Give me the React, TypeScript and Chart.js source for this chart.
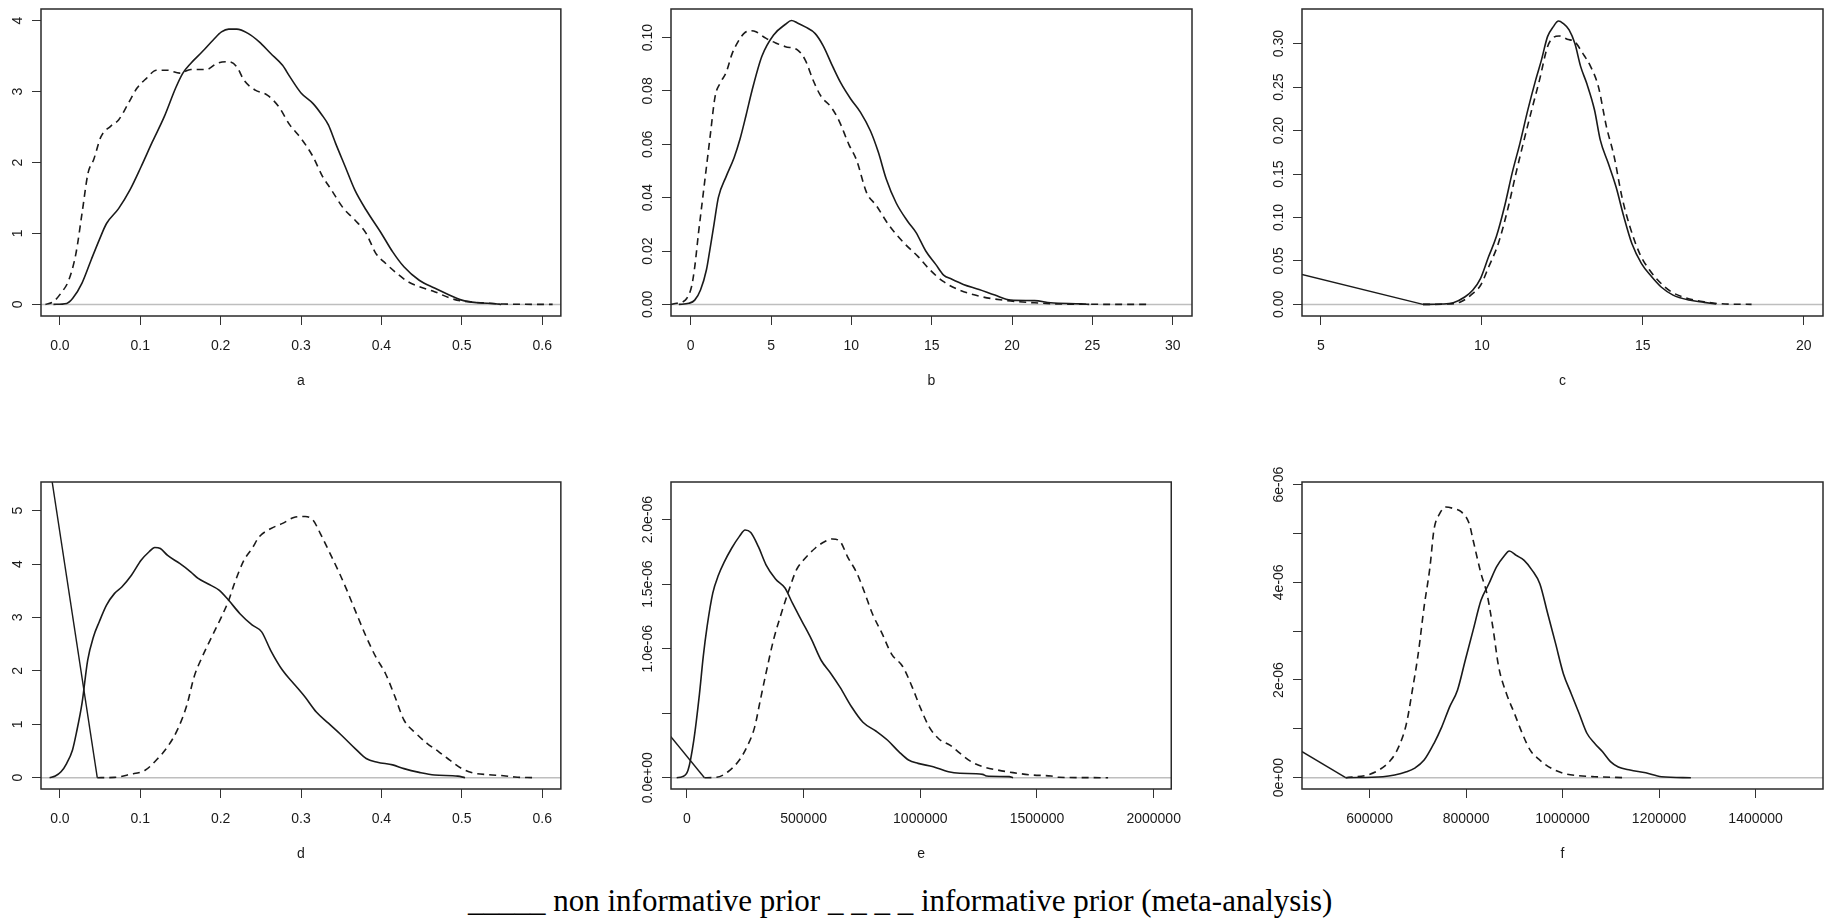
import React, { useEffect, useRef } from "react";
import { Chart, registerables } from "chart.js";
Chart.register(...registerables);

type Pt = [number, number];

// ---------------- tick values & labels ----------------
const xTicksA = [0, 0.1, 0.2, 0.3, 0.4, 0.5, 0.6];
const xLabelsA = ["0.0", "0.1", "0.2", "0.3", "0.4", "0.5", "0.6"];
const yTicksA = [0, 1, 2, 3, 4];
const yLabelsA = ["0", "1", "2", "3", "4"];

const xTicksB = [0, 5, 10, 15, 20, 25, 30];
const xLabelsB = ["0", "5", "10", "15", "20", "25", "30"];
const yTicksB = [0, 0.02, 0.04, 0.06, 0.08, 0.1];
const yLabelsB = ["0.00", "0.02", "0.04", "0.06", "0.08", "0.10"];

const xTicksC = [5, 10, 15, 20];
const xLabelsC = ["5", "10", "15", "20"];
const yTicksC = [0, 0.05, 0.1, 0.15, 0.2, 0.25, 0.3];
const yLabelsC = ["0.00", "0.05", "0.10", "0.15", "0.20", "0.25", "0.30"];

const xTicksD = [0, 0.1, 0.2, 0.3, 0.4, 0.5, 0.6];
const xLabelsD = ["0.0", "0.1", "0.2", "0.3", "0.4", "0.5", "0.6"];
const yTicksD = [0, 1, 2, 3, 4, 5];
const yLabelsD = ["0", "1", "2", "3", "4", "5"];

const xTicksE = [0, 500000, 1000000, 1500000, 2000000];
const xLabelsE = ["0", "500000", "1000000", "1500000", "2000000"];
const yTicksE = [0, 5e-7, 1e-6, 1.5e-6, 2e-6];
const yLabelsE = ["0.0e+00", "", "1.0e-06", "1.5e-06", "2.0e-06"];

const xTicksF = [600000, 800000, 1000000, 1200000, 1400000];
const xLabelsF = ["600000", "800000", "1000000", "1200000", "1400000"];
const yTicksF = [0, 1e-6, 2e-6, 3e-6, 4e-6, 5e-6, 6e-6];
const yLabelsF = ["0e+00", "", "2e-06", "", "4e-06", "", "6e-06"];

// ---------------- axis ranges ----------------
const xLimA = [-0.0235, 0.6232];
const yLimA = [-0.1635, 4.1635];
const xLimB = [-1.226, 31.2];
const yLimB = [-0.00435, 0.11072];
const xLimC = [4.41, 20.6];
const yLimC = [-0.01334, 0.3398];
const xLimD = [-0.0235, 0.6232];
const yLimD = [-0.2115, 5.535];
const xLimE = [-68300, 2075300];
const yLimE = [-0.0876e-6, 2.2914e-6];
const xLimF = [459900, 1539700];
const yLimF = [-0.2313e-6, 6.053e-6];

// ---------------- series (x, density) ----------------
const aSolid: Pt[] = [
  [-0.008, 0], [0.0085, 0.014], [0.016, 0.085], [0.0275, 0.3], [0.039, 0.63], [0.049, 0.91],
  [0.058, 1.14], [0.073, 1.35], [0.087, 1.61], [0.101, 1.94], [0.115, 2.29], [0.13, 2.65],
  [0.144, 3.05], [0.153, 3.26], [0.163, 3.4], [0.177, 3.56], [0.191, 3.73], [0.201, 3.84],
  [0.21, 3.88], [0.22, 3.88], [0.234, 3.82], [0.248, 3.7], [0.262, 3.54], [0.277, 3.37],
  [0.286, 3.21], [0.3, 2.98], [0.315, 2.83], [0.326, 2.67], [0.334, 2.53], [0.343, 2.27],
  [0.355, 1.94], [0.367, 1.61], [0.381, 1.33], [0.4, 1.0], [0.414, 0.74], [0.428, 0.53],
  [0.447, 0.34], [0.466, 0.23], [0.485, 0.13], [0.5, 0.06], [0.519, 0.024], [0.542, 0.01], [0.549, 0],
];
const aDashed: Pt[] = [
  [-0.018, 0], [-0.008, 0.04], [0.0014, 0.16], [0.011, 0.34], [0.02, 0.72], [0.0275, 1.28],
  [0.035, 1.85], [0.042, 2.04], [0.051, 2.36], [0.063, 2.51], [0.073, 2.6], [0.084, 2.81],
  [0.096, 3.05], [0.108, 3.19], [0.12, 3.3], [0.134, 3.3], [0.149, 3.26], [0.163, 3.31],
  [0.182, 3.31], [0.196, 3.4], [0.21, 3.42], [0.22, 3.35], [0.229, 3.16], [0.243, 3.02],
  [0.258, 2.95], [0.272, 2.79], [0.286, 2.53], [0.3, 2.34], [0.315, 2.08], [0.326, 1.82],
  [0.338, 1.61], [0.353, 1.35], [0.367, 1.19], [0.381, 1.0], [0.393, 0.72], [0.405, 0.58],
  [0.419, 0.44], [0.433, 0.32], [0.447, 0.25], [0.466, 0.18], [0.485, 0.09], [0.5, 0.047],
  [0.523, 0.024], [0.552, 0.005], [0.613, 0],
];

const bSolid: Pt[] = [
  [-0.74, 0], [-0.12, 0.0004], [0.25, 0.0016], [0.61, 0.0054], [0.98, 0.013], [1.18, 0.02],
  [1.45, 0.03], [1.72, 0.04], [2.21, 0.048], [2.7, 0.055], [3.07, 0.062], [3.45, 0.071],
  [3.81, 0.08], [4.43, 0.093], [5.16, 0.101], [5.9, 0.105], [6.27, 0.1064], [6.64, 0.1055],
  [7.13, 0.104], [7.75, 0.1015], [8.24, 0.097], [8.85, 0.089], [9.34, 0.083], [9.96, 0.077],
  [10.57, 0.072], [11.19, 0.065], [11.68, 0.057], [12.17, 0.047], [12.79, 0.038], [13.52, 0.031],
  [14.02, 0.027], [14.63, 0.02], [15.25, 0.015], [15.74, 0.011], [16.23, 0.0095], [16.97, 0.0075],
  [17.95, 0.0056], [18.93, 0.0035], [19.92, 0.0016], [21.4, 0.0014], [22.4, 0.0006], [24.3, 0.0002], [24.8, 0],
];
const bDashed: Pt[] = [
  [-1.23, 0], [-0.86, 0.0004], [-0.49, 0.001], [-0.25, 0.0022], [0.05, 0.0066], [0.25, 0.014],
  [0.49, 0.027], [0.69, 0.037], [0.93, 0.049], [1.23, 0.064], [1.52, 0.078], [1.84, 0.083],
  [2.21, 0.087], [2.58, 0.094], [2.95, 0.0985], [3.32, 0.1016], [3.69, 0.1026], [4.06, 0.1022],
  [4.67, 0.0998], [5.29, 0.098], [5.9, 0.0966], [6.64, 0.0954], [7.13, 0.0916], [7.62, 0.084],
  [8.11, 0.078], [8.73, 0.074], [9.22, 0.069], [9.84, 0.06], [10.33, 0.054], [10.94, 0.042],
  [11.56, 0.037], [12.3, 0.03], [13.28, 0.023], [14.14, 0.018], [14.88, 0.013], [15.74, 0.0085],
  [16.72, 0.0054], [17.95, 0.0031], [19.43, 0.0016], [21.4, 0.0006], [23.4, 0.0001], [28.5, 0],
];

const cSolid: Pt[] = [
  [8.17, 0], [8.74, 0.0004], [9.11, 0.0019], [9.48, 0.0088], [9.72, 0.0165], [9.96, 0.03],
  [10.21, 0.055], [10.45, 0.078], [10.7, 0.112], [10.94, 0.151], [11.18, 0.185], [11.43, 0.224],
  [11.67, 0.258], [11.85, 0.281], [12.04, 0.308], [12.22, 0.3195], [12.38, 0.326], [12.52, 0.3234],
  [12.71, 0.3157], [12.89, 0.3], [13.07, 0.2735], [13.26, 0.254], [13.5, 0.2236], [13.68, 0.189],
  [13.93, 0.162], [14.17, 0.135], [14.41, 0.101], [14.66, 0.07], [14.96, 0.047], [15.27, 0.032],
  [15.57, 0.02], [15.94, 0.0107], [16.43, 0.005], [16.91, 0.0023], [17.28, 0.0004],
];
const cDashed: Pt[] = [
  [8.17, 0], [8.87, 0.0004], [9.35, 0.003], [9.72, 0.0127], [9.96, 0.022], [10.21, 0.043],
  [10.51, 0.07], [10.82, 0.112], [11.06, 0.151], [11.31, 0.189], [11.55, 0.224], [11.79, 0.258],
  [12.04, 0.2965], [12.22, 0.307], [12.4, 0.3088], [12.65, 0.305], [12.89, 0.302], [13.13, 0.289],
  [13.38, 0.2735], [13.62, 0.2505], [13.87, 0.2045], [14.11, 0.17], [14.35, 0.124], [14.6, 0.0894],
  [14.9, 0.0587], [15.21, 0.0395], [15.57, 0.024], [15.88, 0.0146], [16.3, 0.008], [16.91, 0.003],
  [17.4, 0.0008], [18.38, 0],
];
const cStray: Pt[] = [[4.0, 0.0381], [8.17, 0]];

const dSolid: Pt[] = [
  [-0.0128, 0], [-0.0057, 0.031], [0.0014, 0.11], [0.0085, 0.27], [0.0157, 0.52], [0.0204, 0.83],
  [0.0275, 1.39], [0.0346, 2.2], [0.0418, 2.64], [0.049, 2.92], [0.058, 3.23], [0.068, 3.45],
  [0.077, 3.57], [0.089, 3.79], [0.101, 4.07], [0.111, 4.23], [0.118, 4.31], [0.125, 4.29],
  [0.134, 4.16], [0.149, 4.01], [0.163, 3.85], [0.172, 3.73], [0.184, 3.63], [0.198, 3.51],
  [0.21, 3.32], [0.224, 3.07], [0.239, 2.86], [0.251, 2.73], [0.262, 2.39], [0.277, 2.01],
  [0.291, 1.76], [0.305, 1.51], [0.319, 1.23], [0.334, 1.02], [0.35, 0.8], [0.367, 0.55],
  [0.381, 0.36], [0.395, 0.29], [0.414, 0.24], [0.428, 0.17], [0.447, 0.1], [0.466, 0.05],
  [0.495, 0.03], [0.504, 0],
];
const dDashed: Pt[] = [
  [0.0465, 0], [0.068, 0.006], [0.087, 0.062], [0.106, 0.14], [0.12, 0.33], [0.134, 0.58],
  [0.146, 0.89], [0.158, 1.36], [0.167, 1.89], [0.177, 2.26], [0.189, 2.64], [0.201, 3.01],
  [0.21, 3.32], [0.217, 3.63], [0.229, 4.07], [0.239, 4.29], [0.248, 4.51], [0.262, 4.66],
  [0.277, 4.76], [0.291, 4.87], [0.305, 4.89], [0.315, 4.82], [0.324, 4.57], [0.336, 4.2],
  [0.348, 3.82], [0.357, 3.51], [0.369, 3.07], [0.381, 2.64], [0.393, 2.26], [0.405, 1.95],
  [0.417, 1.51], [0.428, 1.08], [0.443, 0.83], [0.457, 0.64], [0.471, 0.49], [0.485, 0.33],
  [0.5, 0.17], [0.514, 0.09], [0.533, 0.056], [0.552, 0.037], [0.566, 0.012], [0.59, 0],
];
const dStray: Pt[] = [[-0.03, 7.55], [0.0465, 0]];

const eSolid: Pt[] = [
  [-44000, 0], [-19500, 0.008e-6], [4900, 0.059e-6], [29300, 0.29e-6], [53700, 0.65e-6],
  [70000, 0.94e-6], [86300, 1.17e-6], [110700, 1.43e-6], [135200, 1.57e-6], [159600, 1.67e-6],
  [192200, 1.78e-6], [224800, 1.87e-6], [249200, 1.92e-6], [273600, 1.9e-6], [306200, 1.79e-6],
  [338800, 1.65e-6], [379500, 1.54e-6], [420200, 1.47e-6], [452800, 1.35e-6], [493500, 1.21e-6],
  [534200, 1.07e-6], [574900, 0.91e-6], [615700, 0.81e-6], [656400, 0.7e-6], [705200, 0.55e-6],
  [754100, 0.43e-6], [811100, 0.36e-6], [860000, 0.29e-6], [908800, 0.2e-6], [949500, 0.137e-6],
  [990200, 0.111e-6], [1055400, 0.085e-6], [1120500, 0.046e-6], [1169400, 0.034e-6],
  [1267100, 0.026e-6], [1283400, 0.013e-6], [1381100, 0.008e-6], [1397400, 0],
];
const eDashed: Pt[] = [
  [74900, 0], [127000, 0.003e-6], [175900, 0.046e-6], [224800, 0.137e-6], [257300, 0.24e-6],
  [289900, 0.39e-6], [314300, 0.6e-6], [338800, 0.81e-6], [371300, 1.07e-6], [403900, 1.27e-6],
  [436500, 1.45e-6], [469100, 1.61e-6], [501600, 1.69e-6], [550500, 1.78e-6], [591200, 1.83e-6],
  [623800, 1.85e-6], [656400, 1.83e-6], [688900, 1.71e-6], [729600, 1.58e-6], [762200, 1.43e-6],
  [794800, 1.27e-6], [835500, 1.12e-6], [876200, 0.96e-6], [925100, 0.86e-6], [965800, 0.7e-6],
  [998400, 0.55e-6], [1039100, 0.39e-6], [1079800, 0.3e-6], [1128700, 0.25e-6], [1169400, 0.19e-6],
  [1218300, 0.124e-6], [1267100, 0.085e-6], [1332300, 0.059e-6], [1397400, 0.039e-6],
  [1478900, 0.021e-6], [1560300, 0.013e-6], [1592900, 0.003e-6], [1804600, 0],
];
const eStray: Pt[] = [[-100000, 0.387e-6], [74900, 0]];

const fSolid: Pt[] = [
  [550400, 0], [627600, 0.02e-6], [652000, 0.055e-6], [676400, 0.12e-6], [692700, 0.19e-6],
  [713000, 0.36e-6], [733300, 0.7e-6], [749600, 1.04e-6], [765900, 1.45e-6], [782100, 1.79e-6],
  [798400, 2.41e-6], [814600, 3.02e-6], [830900, 3.63e-6], [847200, 3.97e-6], [863400, 4.32e-6],
  [879700, 4.55e-6], [889400, 4.64e-6], [904100, 4.55e-6], [920300, 4.45e-6], [936600, 4.25e-6],
  [952800, 3.97e-6], [969100, 3.36e-6], [985400, 2.75e-6], [1001600, 2.13e-6], [1017900, 1.72e-6],
  [1034100, 1.32e-6], [1050400, 0.91e-6], [1066700, 0.7e-6], [1082900, 0.53e-6], [1099200, 0.33e-6],
  [1115500, 0.22e-6], [1139800, 0.157e-6], [1172400, 0.1e-6], [1204900, 0.02e-6], [1265900, 0],
];
const fDashed: Pt[] = [
  [550400, 0], [595100, 0.055e-6], [619500, 0.157e-6], [643900, 0.36e-6], [660200, 0.63e-6],
  [676400, 1.11e-6], [688600, 1.79e-6], [700800, 2.54e-6], [713000, 3.5e-6], [725200, 4.32e-6],
  [733300, 5.07e-6], [745500, 5.41e-6], [757700, 5.54e-6], [774000, 5.51e-6], [790300, 5.44e-6],
  [806500, 5.2e-6], [814600, 4.86e-6], [830900, 4.18e-6], [843100, 3.77e-6], [855300, 3.09e-6],
  [867500, 2.27e-6], [883700, 1.72e-6], [900000, 1.32e-6], [916300, 0.91e-6], [932500, 0.57e-6],
  [952800, 0.36e-6], [977200, 0.19e-6], [1001600, 0.089e-6], [1034100, 0.04e-6], [1066700, 0.02e-6],
  [1131700, 0],
];
const fStray: Pt[] = [[430000, 0.711e-6], [550400, 0]];

const panelNames = ["a", "b", "c", "d", "e", "f"];
const caption = "_____ non informative prior _ _ _ _ informative prior (meta-analysis)";

// ---------------- layout (pixels) ----------------
const Y_AXIS_W = 41;
const PAD_T = 30;
const PAD_R = 2;
const X_AXIS_H = 80;
const COL_LEFT = [41, 671, 1302];
const COL_W = [522, 521, 521];
const ROW_TOP = [9, 482];
const BOX_H = 307;
const SANS = '"Liberation Sans", Arial, Helvetica, sans-serif';
const INK = "#1a1a1a";

type Spec = {
  name: string;
  xLim: number[]; yLim: number[];
  xTicks: number[]; xLabels: string[];
  yTicks: number[]; yLabels: string[];
  solid: Pt[]; dashed: Pt[]; stray?: Pt[];
};

const specs: Spec[] = [
  { name: panelNames[0], xLim: xLimA, yLim: yLimA, xTicks: xTicksA, xLabels: xLabelsA, yTicks: yTicksA, yLabels: yLabelsA, solid: aSolid, dashed: aDashed },
  { name: panelNames[1], xLim: xLimB, yLim: yLimB, xTicks: xTicksB, xLabels: xLabelsB, yTicks: yTicksB, yLabels: yLabelsB, solid: bSolid, dashed: bDashed },
  { name: panelNames[2], xLim: xLimC, yLim: yLimC, xTicks: xTicksC, xLabels: xLabelsC, yTicks: yTicksC, yLabels: yLabelsC, solid: cSolid, dashed: cDashed, stray: cStray },
  { name: panelNames[3], xLim: xLimD, yLim: yLimD, xTicks: xTicksD, xLabels: xLabelsD, yTicks: yTicksD, yLabels: yLabelsD, solid: dSolid, dashed: dDashed, stray: dStray },
  { name: panelNames[4], xLim: xLimE, yLim: yLimE, xTicks: xTicksE, xLabels: xLabelsE, yTicks: yTicksE, yLabels: yLabelsE, solid: eSolid, dashed: eDashed, stray: eStray },
  { name: panelNames[5], xLim: xLimF, yLim: yLimF, xTicks: xTicksF, xLabels: xLabelsF, yTicks: yTicksF, yLabels: yLabelsF, solid: fSolid, dashed: fDashed, stray: fStray },
];

const toXY = (pts: Pt[]) => pts.map(([x, y]) => ({ x, y }));

function Panel({ spec, idx }: { spec: Spec; idx: number }) {
  const ref = useRef<HTMLCanvasElement>(null);
  const col = idx % 3;
  const row = Math.floor(idx / 3);
  const W = Y_AXIS_W + COL_W[col] + PAD_R;
  const H = PAD_T + BOX_H + X_AXIS_H;
  const left = COL_LEFT[col] - Y_AXIS_W;
  const top = ROW_TOP[row] - PAD_T;

  useEffect(() => {
    if (!ref.current) return;
    const frameAndZero = {
      id: "frameAndZero" + idx,
      beforeDatasetsDraw(chart: any) {
        const { ctx, chartArea: a, scales } = chart;
        const y0 = scales.y.getPixelForValue(0);
        ctx.save();
        ctx.strokeStyle = "#bebebe";
        ctx.lineWidth = 1.5;
        ctx.beginPath();
        ctx.moveTo(a.left, y0);
        ctx.lineTo(a.right, y0);
        ctx.stroke();
        ctx.restore();
      },
      afterDraw(chart: any) {
        const { ctx, chartArea: a, scales } = chart;
        ctx.save();
        ctx.strokeStyle = "#2a2a2a";
        ctx.lineWidth = 1.5;
        ctx.strokeRect(a.left, a.top, a.right - a.left, a.bottom - a.top);
        // rotated y tick labels (R style, parallel to axis)
        const ys = scales.y;
        ctx.fillStyle = INK;
        ctx.font = `14px ${SANS}`;
        ctx.textAlign = "center";
        ctx.textBaseline = "middle";
        ys.ticks.forEach((_t: any, i: number) => {
          const lab = spec.yLabels[i];
          if (!lab) return;
          const py = ys.getPixelForTick(i);
          ctx.save();
          ctx.translate(a.left - 23, py);
          ctx.rotate(-Math.PI / 2);
          ctx.fillText(lab, 0, 0);
          ctx.restore();
        });
        ctx.restore();
      },
    };

    const datasets: any[] = [
      {
        data: toXY(spec.solid), borderColor: INK, borderWidth: 1.6, pointRadius: 0,
        showLine: true, fill: false, cubicInterpolationMode: "monotone",
      },
      {
        data: toXY(spec.dashed), borderColor: INK, borderWidth: 1.6, pointRadius: 0,
        showLine: true, fill: false, borderDash: [7, 5], cubicInterpolationMode: "monotone",
      },
    ];
    if (spec.stray) {
      datasets.push({
        data: toXY(spec.stray), borderColor: INK, borderWidth: 1.4, pointRadius: 0,
        showLine: true, fill: false, tension: 0,
      });
    }

    const chart = new Chart(ref.current, {
      type: "scatter",
      data: { datasets },
      options: {
        responsive: false,
        animation: false,
        devicePixelRatio: 1,
        events: [],
        layout: { padding: { top: PAD_T, right: PAD_R, left: 0, bottom: 0 } },
        plugins: { legend: { display: false }, tooltip: { enabled: false } },
        scales: {
          x: {
            type: "linear",
            position: "bottom",
            min: spec.xLim[0],
            max: spec.xLim[1],
            afterBuildTicks: (s: any) => { s.ticks = spec.xTicks.map((v) => ({ value: v })); },
            afterFit: (s: any) => { s.height = X_AXIS_H; },
            ticks: {
              autoSkip: false, maxRotation: 0, minRotation: 0, padding: 13, color: INK,
              font: { family: SANS, size: 14 },
              callback: (_v: any, i: number) => spec.xLabels[i],
            },
            grid: { display: true, drawOnChartArea: false, drawTicks: true, tickLength: 9, color: "#333", lineWidth: 1 },
            border: { display: false },
            title: { display: true, text: spec.name, color: INK, font: { family: SANS, size: 14 }, padding: { top: 0, bottom: 6 } },
          },
          y: {
            type: "linear",
            position: "left",
            min: spec.yLim[0],
            max: spec.yLim[1],
            afterBuildTicks: (s: any) => { s.ticks = spec.yTicks.map((v) => ({ value: v })); },
            afterFit: (s: any) => { s.width = Y_AXIS_W; },
            ticks: { display: false, callback: (_v: any, i: number) => spec.yLabels[i] },
            grid: { display: true, drawOnChartArea: false, drawTicks: true, tickLength: 9, color: "#333", lineWidth: 1 },
            border: { display: false },
          },
        },
      } as any,
      plugins: [frameAndZero],
    });
    return () => chart.destroy();
  }, []);

  return (
    <canvas
      ref={ref}
      width={W}
      height={H}
      style={{ position: "absolute", left, top, width: W, height: H }}
    />
  );
}

export default function App() {
  return (
    <div style={{ position: "absolute", left: 0, top: 0, width: 1825, height: 919, background: "#fff", overflow: "hidden" }}>
      {specs.map((s, i) => (
        <Panel key={s.name} spec={s} idx={i} />
      ))}
      <div
        style={{
          position: "absolute", left: 468, top: 885, fontFamily: '"Liberation Serif", "Times New Roman", serif',
          fontSize: 31, lineHeight: "31px", whiteSpace: "pre", color: "#000",
        }}
      >
        {caption}
      </div>
    </div>
  );
}
